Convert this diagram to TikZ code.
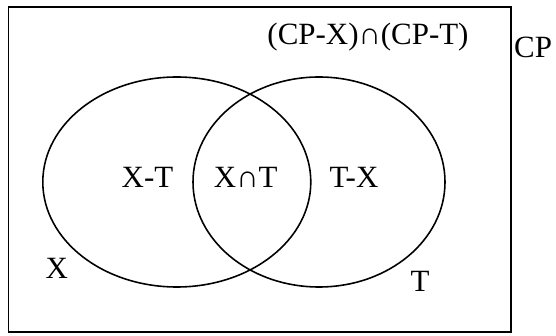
\documentclass[tikz,border=0pt]{standalone}
\usepackage{fontspec}
\setmainfont{Liberation Serif}
\usetikzlibrary{shapes.geometric,positioning}

\begin{document}
\begin{tikzpicture}[font=\fontsize{17.6}{21}\selectfont,line width=0.9pt]
  \tikzstyle{set}=[draw,ellipse,inner sep=0pt]
  \tikzstyle{lbl}=[inner sep=0pt]
  \useasboundingbox (0,0) rectangle (11.12,6.70);

  % universe
  \node[draw,rectangle,inner sep=0pt,line width=1pt,minimum width=10.05cm,minimum height=6.50cm] (cp) at (5.195,3.31) {};
  \node[lbl,right=0.03cm of cp.north east,yshift=-0.82cm] (cplbl) {CP};
  % the two sets
  \node[set,minimum width=5.36cm,minimum height=4.20cm] (x) at (3.536,3.06) {};
  \node[set,minimum width=5.04cm,minimum height=4.20cm] (t) at (6.38,3.06) {};

  % regions
  \node[lbl] (xt) at (2.95,3.16) {X-T};
  \node[lbl] (both) at (4.914,3.16) {X∩T};
  \node[lbl] (tx) at (7.08,3.16) {T-X};
  \node[lbl] (none) at (7.36,5.96) {(CP-X)∩(CP-T)};
  \node[lbl] (xlbl) at (1.134,1.34) {X};
  \node[lbl] (tlbl) at (8.40,1.08) {T};
\end{tikzpicture}
\end{document}
